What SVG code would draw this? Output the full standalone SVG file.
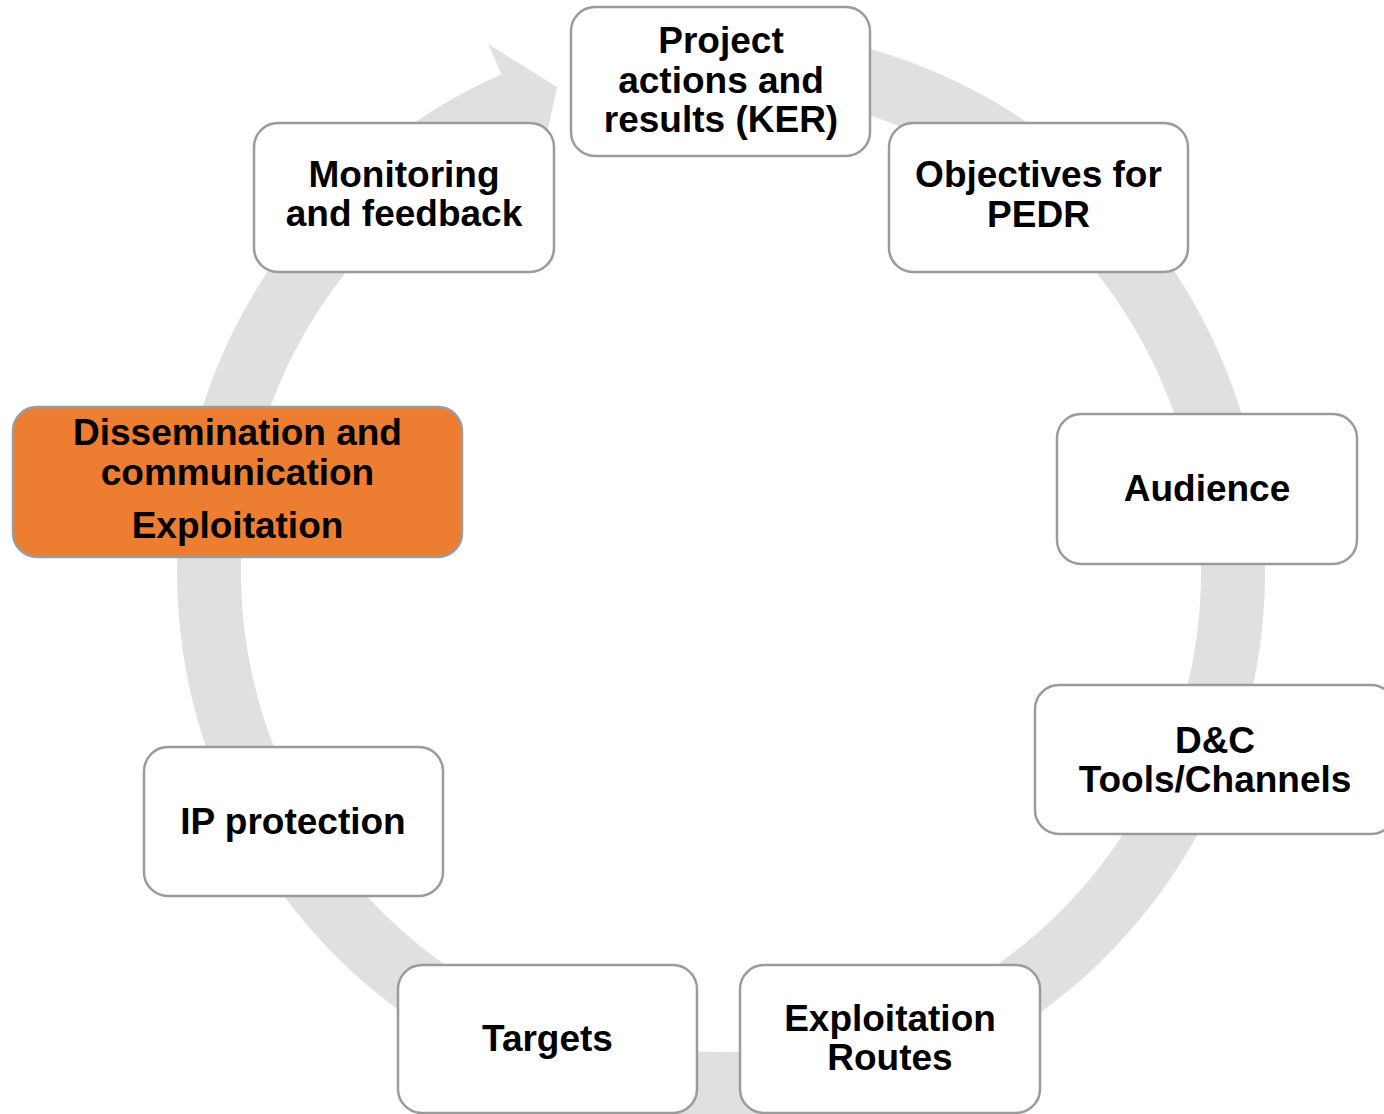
<svg xmlns="http://www.w3.org/2000/svg" width="1384" height="1114" viewBox="0 0 1384 1114">
<style>
.box{fill:#ffffff;stroke:#9b9b9b;stroke-width:2.5}
.hl{fill:#ed7d31}
.t{font-family:"Liberation Sans",Arial,sans-serif;font-weight:bold;font-size:37px;fill:#000;text-anchor:middle}
.ring{fill:#e0e0e0;stroke:none}
</style>
<rect width="1384" height="1114" fill="#ffffff"/>
<g id="connectors">
<path class="ring" d="M 673.6 30.1 A 544 544 0 1 1 501.5 74.3 L 488.2 44.1 L 557 87 L 540.6 163 L 527.3 132.8 A 480 480 0 1 0 679.2 93.8 Z"/>
</g>
<g id="node-project">
<rect class="box" x="571" y="7" width="299" height="149" rx="24"/>
<text class="t" x="721" y="53">Project</text>
<text class="t" x="721" y="93">actions and</text>
<text class="t" x="721" y="132">results (KER)</text>
</g>
<g id="node-objectives">
<rect class="box" x="889" y="123" width="299" height="149" rx="24"/>
<text class="t" x="1038.5" y="187">Objectives for</text>
<text class="t" x="1038.5" y="227">PEDR</text>
</g>
<g id="node-audience">
<rect class="box" x="1057" y="414" width="300" height="150" rx="24"/>
<text class="t" x="1207" y="501">Audience</text>
</g>
<g id="node-tools">
<rect class="box" x="1035" y="685" width="360" height="149" rx="24"/>
<text class="t" x="1215" y="753">D&amp;C</text>
<text class="t" x="1215" y="792">Tools/Channels</text>
</g>
<g id="node-routes">
<rect class="box" x="740" y="965" width="300" height="148" rx="24"/>
<text class="t" x="890" y="1031">Exploitation</text>
<text class="t" x="890" y="1070">Routes</text>
</g>
<g id="node-targets">
<rect class="box" x="398" y="965" width="299" height="148" rx="24"/>
<text class="t" x="547.5" y="1051">Targets</text>
</g>
<g id="node-ip">
<rect class="box" x="144" y="747" width="299" height="149" rx="24"/>
<text class="t" x="293" y="834">IP protection</text>
</g>
<g id="node-dissemination">
<rect class="box hl" x="13" y="407" width="449" height="150" rx="24"/>
<text class="t" x="237.5" y="445">Dissemination and</text>
<text class="t" x="237.5" y="485">communication</text>
<text class="t" x="237.5" y="538">Exploitation</text>
</g>
<g id="node-monitoring">
<rect class="box" x="254" y="123" width="300" height="149" rx="24"/>
<text class="t" x="404" y="187">Monitoring</text>
<text class="t" x="404" y="226">and feedback</text>
</g>
</svg>
